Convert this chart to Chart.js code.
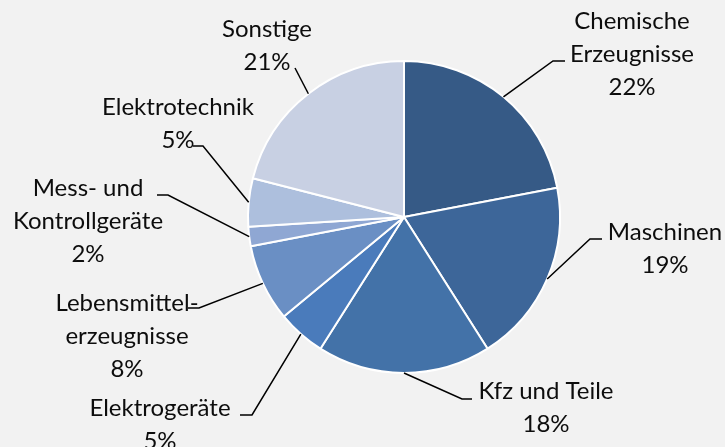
<!DOCTYPE html>
<html>
<head>
<meta charset="utf-8">
<script src="https://cdn.jsdelivr.net/npm/chart.js@4/dist/chart.umd.min.js"></script>
<style>
html,body{margin:0;padding:0;background:#f2f2f2;}
#wrap{width:725px;height:447px;position:relative;}
</style>
</head>
<body>
<div id="wrap"><canvas id="c" width="725" height="447"></canvas></div>
<script>
const categories = [
  ["Chemische", "Erzeugnisse"],
  ["Maschinen"],
  ["Kfz und Teile"],
  ["Elektrogeräte"],
  ["Lebensmittel-", "erzeugnisse"],
  ["Mess- und", "Kontrollgeräte"],
  ["Elektrotechnik"],
  ["Sonstige"]
];
const shares = [22, 19, 18, 5, 8, 2, 5, 21];
const sliceColors = ["#365a86", "#3d6699", "#4372a8", "#4a7bbb", "#6a8fc4", "#8fa7d3", "#adbfdd", "#c8d0e3"];

// label layout: text centre x, first baseline y, leader elbow and end points
const labelLayout = [
  {x: 632, y: 29, elbow: [553, 61], end: [565, 61]},
  {x: 665, y: 240, elbow: [590, 239], end: [602, 239]},
  {x: 546, y: 399, elbow: [462, 399], end: [472, 399]},
  {x: 160, y: 416, elbow: [252, 415], end: [240, 415]},
  {x: 127, y: 311, elbow: [199, 308], end: [188, 308]},
  {x: 88, y: 196, elbow: [168, 195], end: [157, 195]},
  {x: 178, y: 115, elbow: [203, 146], end: [193, 146]},
  {x: 267, y: 37, elbow: [295, 68], end: [295, 68]}
];

const calloutPlugin = {
  id: 'callouts',
  afterDatasetsDraw(chart, args, opts) {
    const ctx = chart.ctx;
    const meta = chart.getDatasetMeta(0);
    const data = chart.data.datasets[0].data;
    ctx.save();
    meta.data.forEach((arc, i) => {
      const p = arc.getProps(['x', 'y', 'startAngle', 'endAngle', 'outerRadius'], true);
      const mid = (p.startAngle + p.endAngle) / 2;
      const ax = p.x + Math.cos(mid) * p.outerRadius;
      const ay = p.y + Math.sin(mid) * p.outerRadius;
      const L = opts.layout[i];
      ctx.strokeStyle = '#000';
      ctx.lineWidth = 1.5;
      ctx.beginPath();
      ctx.moveTo(ax, ay);
      ctx.lineTo(L.elbow[0], L.elbow[1]);
      ctx.lineTo(L.end[0], L.end[1]);
      ctx.stroke();
      const lines = chart.data.labels[i].concat([data[i] + '%']);
      ctx.fillStyle = '#0d0d0d';
      ctx.font = opts.font;
      ctx.textAlign = 'center';
      ctx.textBaseline = 'alphabetic';
      lines.forEach((t, k) => ctx.fillText(t, L.x, L.y + k * opts.lineHeight));
    });
    ctx.restore();
  }
};

new Chart(document.getElementById('c'), {
  type: 'pie',
  data: {
    labels: categories,
    datasets: [{
      data: shares,
      backgroundColor: sliceColors,
      borderColor: '#ffffff',
      borderWidth: 2
    }]
  },
  options: {
    responsive: false,
    animation: false,
    layout: {padding: {left: 247, right: 164, top: 60, bottom: 73}},
    plugins: {
      legend: {display: false},
      tooltip: {enabled: false},
      callouts: {layout: labelLayout, font: '24px Lato', lineHeight: 33}
    }
  },
  plugins: [calloutPlugin]
});
</script>
</body>
</html>
